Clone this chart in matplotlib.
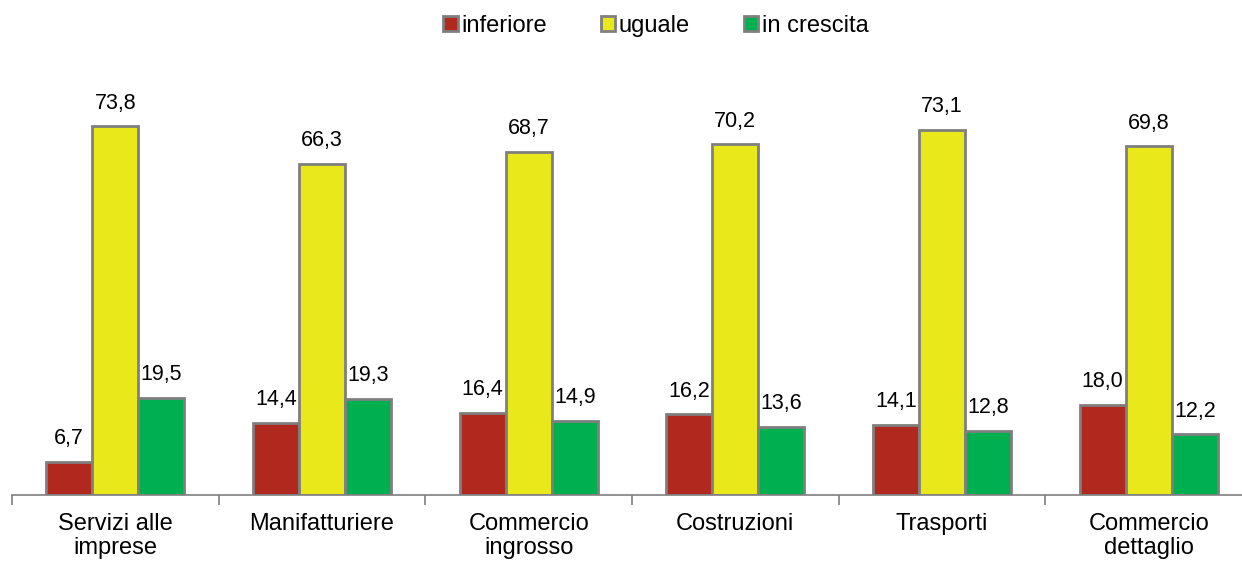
import numpy as np
import matplotlib.pyplot as plt

plt.rcParams['font.family'] = ['Liberation Sans', 'DejaVu Sans']

categories = ["Servizi alle\nimprese", "Manifatturiere", "Commercio\ningrosso",
              "Costruzioni", "Trasporti", "Commercio\ndettaglio"]
inferiore = [6.7, 14.4, 16.4, 16.2, 14.1, 18.0]
uguale = [73.8, 66.3, 68.7, 70.2, 73.1, 69.8]
in_crescita = [19.5, 19.3, 14.9, 13.6, 12.8, 12.2]

series = [("inferiore", inferiore, "#B0281E"),
          ("uguale", uguale, "#E8E81A"),
          ("in crescita", in_crescita, "#00B050")]

fig = plt.figure(figsize=(12.42, 5.62), dpi=100)
# plot area runs slightly past the right edge, as in the original layout
ax = fig.add_axes([12 / 1242, 67 / 562, 1240 / 1242, 400 / 562])

x = np.arange(len(categories))
w = 0.223
for k, (name, vals, col) in enumerate(series):
    pos = x + (k - 1) * w
    bars = ax.bar(pos, vals, w, color=col, edgecolor="#7F7F7F", linewidth=2.0, label=name)
    for b, v in zip(bars, vals):
        ax.annotate(f"{v:.1f}".replace(".", ","), (b.get_x() + b.get_width() / 2, v),
                    xytext=(0, 9), textcoords="offset points",
                    ha="center", va="bottom", fontsize=15.5)

ax.set_xlim(-0.5, len(categories) - 0.5)
ax.set_ylim(0, 80)
for s in ["top", "right", "left"]:
    ax.spines[s].set_visible(False)
ax.spines["bottom"].set_color("#7F7F7F")
ax.spines["bottom"].set_linewidth(1.2)
ax.set_yticks([])
ax.set_xticks(x)
ax.set_xticklabels(categories, fontsize=17, linespacing=1.1)
ax.tick_params(axis="x", which="major", length=0, pad=13)
ax.set_xticks(np.arange(-0.5, len(categories), 1), minor=True)
ax.tick_params(axis="x", which="minor", length=7, width=1.2, color="#7F7F7F", direction="out")

fig.legend(loc="center", bbox_to_anchor=(656 / 1242, 1 - 26 / 562), ncol=3, frameon=False,
           fontsize=17, handlelength=0.6, handleheight=0.6, handletextpad=0.15,
           columnspacing=2.3)

fig.savefig("out.png", dpi=100)
